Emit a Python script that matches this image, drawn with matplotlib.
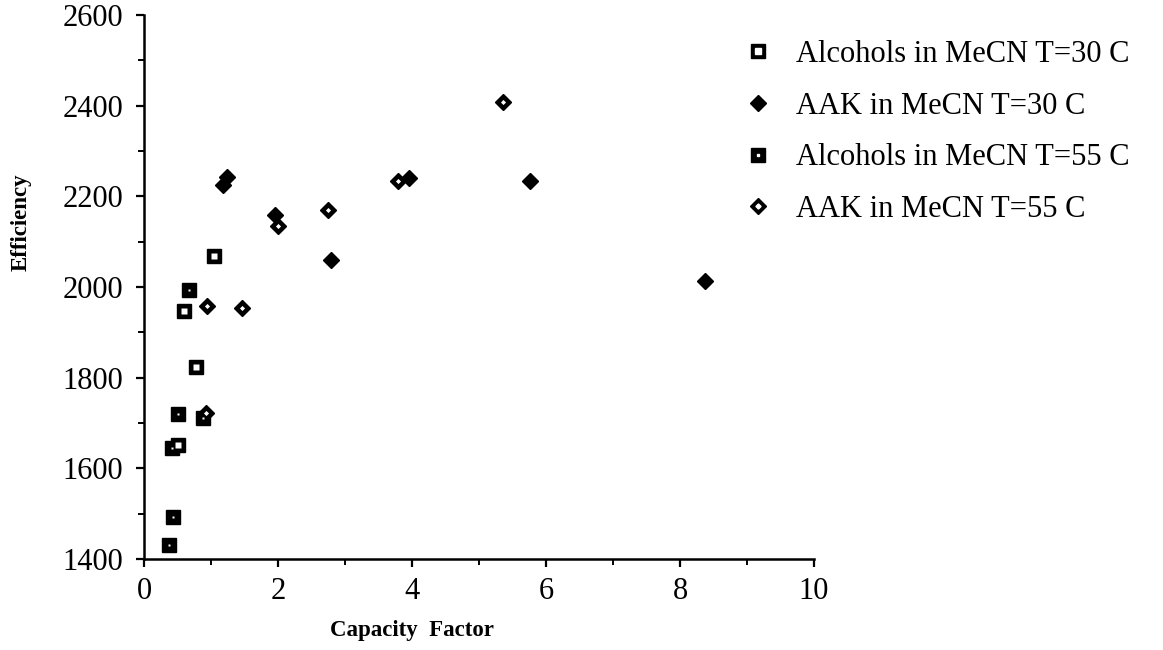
import matplotlib
matplotlib.use("Agg")
import matplotlib.pyplot as plt
from matplotlib.lines import Line2D
from matplotlib.legend_handler import HandlerTuple
from matplotlib.ticker import MultipleLocator

plt.rcParams['font.family'] = ['Liberation Serif', 'DejaVu Serif']

# Capacity factor (k') vs. column efficiency (plates)
alc30_k = [1.04, 0.60, 0.78, 0.50]
alc30_n = [2069, 1947, 1824, 1652]

aak30_k = [1.18, 1.24, 1.96, 2.79, 3.96, 5.76, 8.37]
aak30_n = [2226, 2243, 2159, 2060, 2241, 2234, 2014]

alc55_k = [0.67, 0.51, 0.88, 0.42, 0.43, 0.37]
alc55_n = [1994, 1720, 1712, 1645, 1493, 1431]

aak55_k = [0.94, 1.46, 2.00, 2.75, 3.79, 5.36, 0.93]
aak55_n = [1958, 1954, 2135, 2170, 2234, 2409, 1722]

labels = ["Alcohols in MeCN T=30 C", "AAK in MeCN T=30 C",
          "Alcohols in MeCN T=55 C", "AAK in MeCN T=55 C"]

fig = plt.figure(figsize=(11.63, 6.5), dpi=100)
ax = fig.add_axes([144 / 1163, 1 - 559 / 650, 670 / 1163, 544 / 650])

SQ = 10.2
DM = 8.2
SQ_HOLE = 3.8
PIN = 1.6
DM_HOLE = 2.6

# Open squares (30 C alcohols)
ax.plot(alc30_k, alc30_n, 's', ms=SQ, color='black', mec='black', ls='none', zorder=3)
ax.plot(alc30_k, alc30_n, 's', ms=SQ_HOLE, color='white', mec='none', ls='none', zorder=4)
# Solid squares with a pinhole (55 C alcohols)
ax.plot(alc55_k, alc55_n, 's', ms=SQ, color='black', mec='black', ls='none', zorder=3)
ax.plot(alc55_k, alc55_n, 's', ms=PIN, color='white', mec='none', ls='none', zorder=4)
# Solid diamonds (30 C AAK)
ax.plot(aak30_k, aak30_n, 'D', ms=DM, color='black', mec='black', ls='none', zorder=3)
# Diamonds with white centre (55 C AAK)
ax.plot(aak55_k, aak55_n, 'D', ms=DM, color='black', mec='black', ls='none', zorder=3)
ax.plot(aak55_k, aak55_n, 'D', ms=DM_HOLE, color='white', mec='none', ls='none', zorder=4)

ax.set_xlim(0, 10)
ax.set_ylim(1400, 2600)
ax.xaxis.set_major_locator(MultipleLocator(2))
ax.xaxis.set_minor_locator(MultipleLocator(1))
ax.yaxis.set_major_locator(MultipleLocator(200))
ax.yaxis.set_minor_locator(MultipleLocator(100))

for s in ['top', 'right']:
    ax.spines[s].set_visible(False)
for s in ['left', 'bottom']:
    ax.spines[s].set_linewidth(1.8)

ax.tick_params(which='major', direction='out', length=6, width=1.6, labelsize=22, pad=7)
ax.tick_params(which='minor', direction='out', length=4, width=1.4)
ax.tick_params(axis='y', which='major', pad=9)

ax.set_xlabel("Capacity  Factor", fontsize=16.5, fontweight='bold')
ax.xaxis.set_label_coords(0.40, -0.112)
ax.set_ylabel("Efficiency", fontsize=16.5, fontweight='bold')
ax.yaxis.set_label_coords(-0.168, 0.62)

# Legend handles built from stacked markers
h1 = (Line2D([], [], marker='s', ms=SQ, color='black', ls='none'),
      Line2D([], [], marker='s', ms=SQ_HOLE, color='white', ls='none'))
h2 = Line2D([], [], marker='D', ms=DM, color='black', ls='none')
h3 = (Line2D([], [], marker='s', ms=SQ, color='black', ls='none'),
      Line2D([], [], marker='s', ms=PIN, color='white', ls='none'))
h4 = (Line2D([], [], marker='D', ms=DM, color='black', ls='none'),
      Line2D([], [], marker='D', ms=DM_HOLE, color='white', ls='none'))

fig.legend([h1, h2, h3, h4], labels,
           handler_map={tuple: HandlerTuple(ndivide=1)},
           loc='upper left', bbox_to_anchor=(743 / 1163, 1 - 40 / 650),
           frameon=False, fontsize=22, handlelength=1.0, handletextpad=0.72,
           labelspacing=0.74, borderpad=0, borderaxespad=0)

fig.savefig("out.png", dpi=100)
